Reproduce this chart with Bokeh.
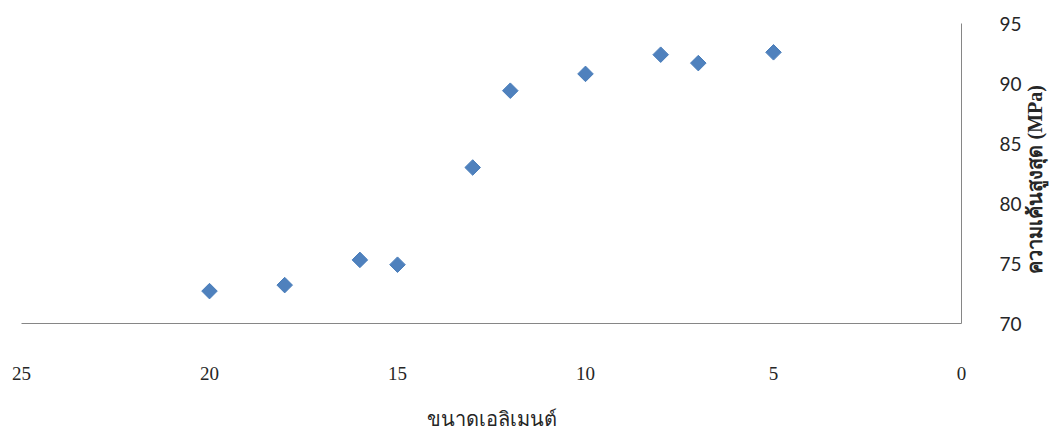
import math
from bokeh.plotting import figure
from bokeh.models import Range1d, SingleIntervalTicker, ColumnDataSource
from bokeh.embed import file_html
from bokeh.resources import INLINE

# Data
element_size = [20, 18, 16, 15, 13, 12, 10, 8, 7, 5]
max_stress = [72.7, 73.2, 75.3, 74.9, 83.0, 89.4, 90.8, 92.4, 91.7, 92.6]

x_title = "ขนาดเอลิเมนต์"
y_title = "ความเค้นสูงสุด (MPa)"

source = ColumnDataSource(data=dict(x=element_size, y=max_stress))

W, H = 1059, 432
p = figure(width=W, height=H, output_backend="svg", toolbar_location=None,
           x_range=Range1d(25, 0), y_range=Range1d(70, 95),
           y_axis_location="right",
           min_border_left=21, min_border_top=23,
           min_border_right=W - 961, min_border_bottom=H - 327)

p.scatter("x", "y", source=source, marker="square", angle=math.pi / 4, size=11,
          fill_color="#4F81BD", line_color="#4A7EBB")

p.grid.visible = False
p.outline_line_color = None

for ax in (p.xaxis[0], p.yaxis[0]):
    ax.ticker = SingleIntervalTicker(interval=5)
    ax.axis_line_color = "#868686"
    ax.axis_line_width = 1
    ax.major_tick_line_color = None
    ax.minor_tick_line_color = None
    ax.major_label_text_color = "#262626"

p.xaxis.major_label_text_font = "Liberation Serif"
p.xaxis.major_label_text_font_size = "19px"
p.xaxis.major_label_standoff = 37
p.xaxis.axis_label = x_title
p.xaxis.axis_label_text_font = "Liberation Serif"
p.xaxis.axis_label_text_font_style = "normal"
p.xaxis.axis_label_text_font_size = "20px"
p.xaxis.axis_label_text_color = "#262626"
p.xaxis.axis_label_standoff = 25

p.yaxis.major_label_text_font = "Lato"
p.yaxis.major_label_text_font_size = "19px"
p.yaxis.major_label_standoff = 32

# Rotated value-axis title reading bottom to top, started near the lower part of the axis
yax = p.yaxis[0]
yax.axis_label_text_font = "Liberation Serif"
yax.axis_label_text_font_style = "bold"
yax.axis_label_text_font_size = "20px"
yax.axis_label_text_color = "#262626"
yax.axis_label_standoff = 10
try:
    yax.axis_label_orientation = math.pi / 2
    yax.axis_label_align = "start"
    yax.axis_label = "\u00a0" * 10 + y_title
except Exception:
    yax.axis_label = y_title

open("out.html", "w").write(file_html(p, INLINE))
